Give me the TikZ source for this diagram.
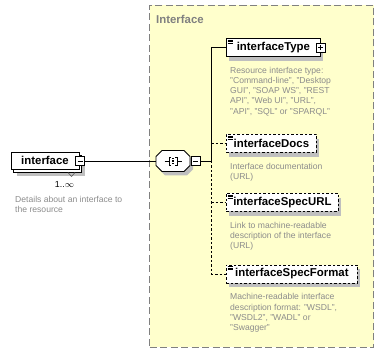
\documentclass[tikz,border=0pt]{standalone}
\usepackage{fontspec}
\setmainfont{Liberation Sans}
\usetikzlibrary{shadows}
\usetikzlibrary{positioning}

\definecolor{boxyellow}{HTML}{FFFFCC}
\definecolor{boxgray}{HTML}{808080}
\definecolor{descgray}{HTML}{8C8C8C}

\tikzset{
	box/.style={draw, fill=white, line width=0.8pt, minimum height=18pt, inner sep=0pt, font=\bfseries\fontsize{11.4}{13}\selectfont},
	elem/.style={box, drop shadow={shadow xshift=3pt, shadow yshift=-4.5pt, fill=black!25, opacity=1}},
	optelem/.style={elem, dash pattern=on 2.5pt off 2pt},
	desc/.style={anchor=north west, inner sep=0pt, align=left, text=descgray, font=\fontsize{8.6}{10.2}\selectfont},
	btn/.style={draw, fill=white, line width=0.7pt, minimum size=9pt, inner sep=0pt},
	wire/.style={line width=0.8pt},
	optwire/.style={wire, dash pattern=on 2.5pt off 2pt}
}

\begin{document}
\begin{tikzpicture}[x=1pt,y=-1pt]
	\useasboundingbox (0,0) rectangle (384,353);

	\node[draw=boxgray, fill=boxyellow, line width=1pt, dash pattern=on 7pt off 3.5pt, minimum width=224pt, minimum height=342pt, anchor=north west] (group) at (149,5) {};
	\node[anchor=west, inner sep=0pt, text=boxgray, font=\bfseries\fontsize{11.4}{13}\selectfont] (grouptitle) at (156,19) {Interface};

	\node[elem, minimum width=68pt, minimum height=17pt] (interfaceback) at (47.5,163.5) {};
	\node[box, minimum width=68pt, minimum height=17pt] (interface) at (45,160.5) {interface};
	\draw[black!65, line width=0.6pt] (68,172.5) -- (71.5,176.5) -- (75,172.5);
	\node[btn] (interfacebtn) at (80,161) {};
	\draw[line width=0.7pt] ([xshift=-2.5pt]interfacebtn.center) -- ([xshift=2.5pt]interfacebtn.center);
	\node[font=\fontsize{8.8}{10}\selectfont, inner sep=0pt] (interfaceocc) at (64.5,184) {1..$\infty$};
	\node[desc] (interfacedesc) at (15,196) {Details about an interface to\\the resource};

	% sequence compositor
	\node[inner sep=0pt, minimum width=34pt, minimum height=21pt] (seq) at (173,161) {};
	\begin{scope}[shift={(seq.center)}]
		\fill[black!25, shift={(3,4)}] (-11,-10.5) -- (11,-10.5) -- (17,-4.5) -- (17,4.5) -- (11,10.5) -- (-11,10.5) -- (-17,4.5) -- (-17,-4.5) -- cycle;
		\filldraw[fill=white, line width=0.8pt] (-11,-10.5) -- (11,-10.5) -- (17,-4.5) -- (17,4.5) -- (11,10.5) -- (-11,10.5) -- (-17,4.5) -- (-17,-4.5) -- cycle;
		\draw[line width=0.7pt] (-8.5,0) -- (-4,0) (4,0) -- (8.5,0);
		\draw[line width=0.7pt] (-2,-4) -- (-4,-4) -- (-4,4) -- (-2,4) (2,-4) -- (4,-4) -- (4,4) -- (2,4);
		\foreach \d in {-2.5,0,2.5}
			\fill (-0.9,\d-0.9) rectangle ++(1.8,1.8);
	\end{scope}
	\node[btn] (seqbtn) at (195.5,161) {};
	\draw[line width=0.7pt] ([xshift=-2.5pt]seqbtn.center) -- ([xshift=2.5pt]seqbtn.center);
	\coordinate (bus) at (211,161);

	\node[elem, minimum width=94pt, anchor=west] (type) at (226,47.5) {interfaceType};
	\node[optelem, minimum width=90pt, anchor=west] (docs) at (226,143.5) {interfaceDocs};
	\node[optelem, minimum width=112pt, anchor=west] (specurl) at (226,202.5) {interfaceSpecURL};
	\node[optelem, minimum width=131pt, anchor=west] (specformat) at (226,274) {interfaceSpecFormat};
	\foreach \n in {type,docs,specurl,specformat}
		\foreach \d in {2,3.5,5}
			\draw[line width=0.5pt] ([shift={(1.5,\d)}]\n.north west) -- ++(5,0);
	\node[btn] (typebtn) at (type.east) {};
	\draw[line width=0.7pt] ([xshift=-2.5pt]typebtn.center) -- ([xshift=2.5pt]typebtn.center) ([yshift=-2.5pt]typebtn.center) -- ([yshift=2.5pt]typebtn.center);

	\node[desc, below right=10pt and 4pt of type.south west] (typedesc) {Resource interface type:\\"Command-line", "Desktop\\GUI", "SOAP WS", "REST\\API", "Web UI", "URL",\\"API", "SQL" or "SPARQL"};
	\node[desc, below right=10pt and 4pt of docs.south west] (docsdesc) {Interface documentation\\(URL)};
	\node[desc, below right=10pt and 4pt of specurl.south west] (specurldesc) {Link to machine-readable\\description of the interface\\(URL)};
	\node[desc, below right=10pt and 4pt of specformat.south west] (specformatdesc) {Machine-readable interface\\description format: "WSDL",\\"WSDL2", "WADL" or\\"Swagger"};

	\draw[wire] (interfacebtn.east) -- (seq.west);
	\draw[wire] (seqbtn.east) -- (bus);
	\draw[wire] (bus) |- (type.west);
	\draw[optwire] (bus) |- (specformat.west);
	\foreach \n in {docs,specurl}
		\draw[optwire] (bus |- \n.west) -- (\n.west);
\end{tikzpicture}
\end{document}
